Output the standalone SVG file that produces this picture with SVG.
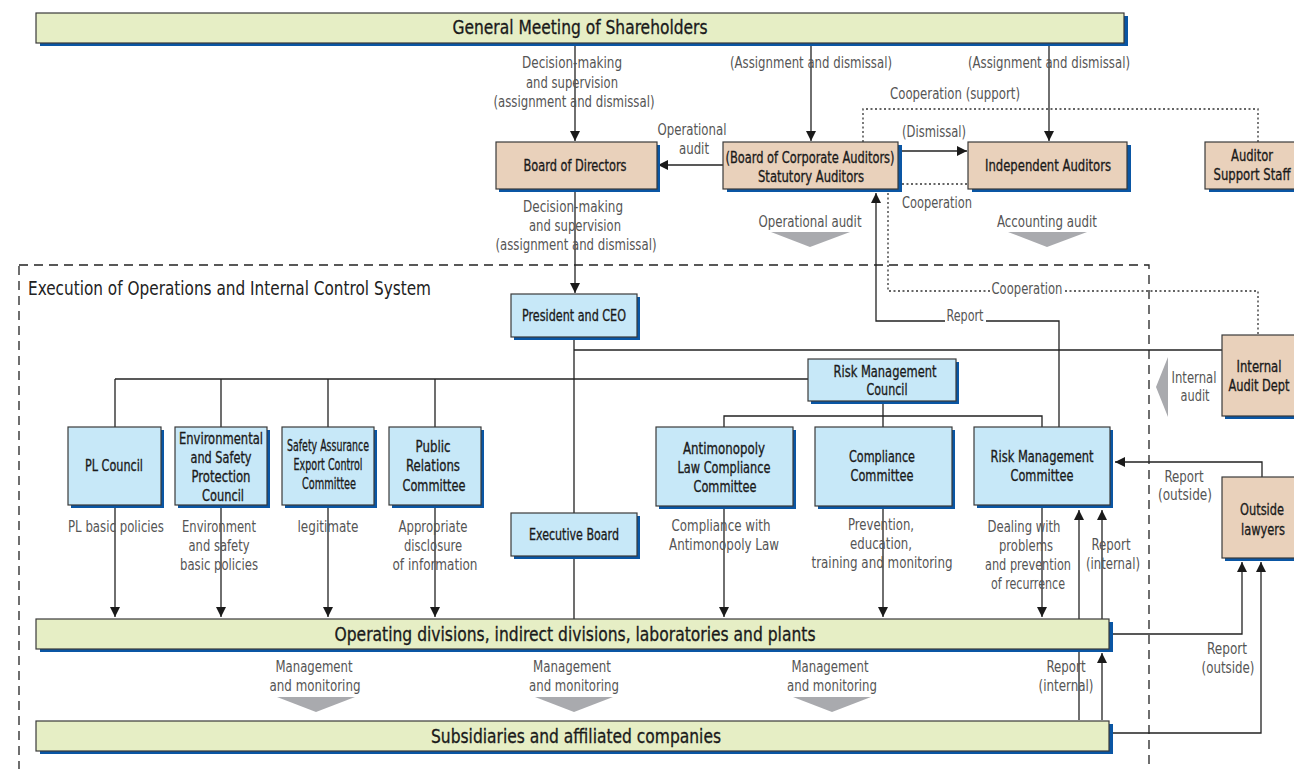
<svg xmlns="http://www.w3.org/2000/svg" width="1294" height="769" viewBox="0 0 1294 769">
<defs>
<marker id="ah" viewBox="0 0 10 10" refX="10" refY="5" markerWidth="10" markerHeight="10" markerUnits="userSpaceOnUse" orient="auto">
<path d="M0,0 L10,5 L0,10 z" fill="#1a1a1a"/>
</marker>
</defs>
<style>
text{font-family:"DejaVu Sans Condensed","DejaVu Sans","Liberation Sans",sans-serif;}
.sh{fill:#0a56a4}
.bx{stroke:#3a3a3a;stroke-width:1.2}
.g{fill:#e6eec5}
.t{fill:#e9d1bb}
.b{fill:#c7e8f8}
.nt{font-size:15px;fill:#1a1a1a;stroke:#1a1a1a;stroke-width:0.3;text-anchor:middle}
.big{font-size:19px;fill:#1a1a1a;stroke:#1a1a1a;stroke-width:0.3;text-anchor:middle}
.lb{font-size:15px;fill:#555;text-anchor:middle}
.ln{fill:none;stroke:#222;stroke-width:1.3}
.dot{fill:none;stroke:#333;stroke-width:1.3;stroke-dasharray:2 2.5}
.dash{fill:none;stroke:#222;stroke-width:1.3;stroke-dasharray:9 6}
.chev{fill:#a9aaae}
</style>

<rect class="dash" x="19" y="265" width="1130" height="540"/>
<text x="28" y="295" style="font-size:19px;fill:#222" textLength="403" lengthAdjust="spacingAndGlyphs">Execution of Operations and Internal Control System</text>

<g id="connectors">
<path class="ln" d="M575,43 V141" marker-end="url(#ah)"/>
<path class="ln" d="M811,43 V141" marker-end="url(#ah)"/>
<path class="ln" d="M1049,43 V141" marker-end="url(#ah)"/>
<path class="ln" d="M723,165 H658" marker-end="url(#ah)"/>
<path class="ln" d="M902,151 H967" marker-end="url(#ah)"/>
<path class="dot" d="M863,142 V109 H1258 V142"/>
<path class="dot" d="M902,184 H968"/>
<path class="dot" d="M888,193 V291 H990 M1065,291 H1258 V335"/>
<path class="ln" d="M1059,427 V321 H986 M945,321 H876 V193" marker-end="url(#ah)"/>
<path class="ln" d="M575,192 V293" marker-end="url(#ah)"/>
<path class="ln" d="M574,337 V513 M574,556 V619"/>
<path class="ln" d="M574,350 H1222"/>
<path class="ln" d="M115,379 H808"/>
<path class="ln" d="M115,379 V427 M221,379 V427 M328,379 V427 M435,379 V427"/>
<path class="ln" d="M883,401 V416 M724,427 V416 H1042 V427 M883,416 V427"/>
<path class="ln" d="M115,508 V617" marker-end="url(#ah)"/>
<path class="ln" d="M221,508 V617" marker-end="url(#ah)"/>
<path class="ln" d="M328,508 V617" marker-end="url(#ah)"/>
<path class="ln" d="M435,508 V617" marker-end="url(#ah)"/>
<path class="ln" d="M724,509 V617" marker-end="url(#ah)"/>
<path class="ln" d="M883,509 V617" marker-end="url(#ah)"/>
<path class="ln" d="M1042,508 V617" marker-end="url(#ah)"/>
<path class="ln" d="M1079,720 V510" marker-end="url(#ah)"/>
<path class="ln" d="M1102,619 V510" marker-end="url(#ah)"/>
<path class="ln" d="M1102,720 V653" marker-end="url(#ah)"/>
<path class="ln" d="M1262,477 V462 H1115" marker-end="url(#ah)"/>
<path class="ln" d="M1113,634 H1242 V562" marker-end="url(#ah)"/>
<path class="ln" d="M1113,733 H1261 V562" marker-end="url(#ah)"/>
<polygon class="chev" points="771,232 850,232 810,247"/>
<polygon class="chev" points="1008,232 1087,232 1047,247"/>
<polygon class="chev" points="277,697 355,697 316,712"/>
<polygon class="chev" points="535,697 613,697 574,712"/>
<polygon class="chev" points="793,697 871,697 832,712"/>
<polygon class="chev" points="1168,357 1156,387 1168,417"/>
</g>

<g id="labels">
<text class="lb" x="572" y="68" textLength="100" lengthAdjust="spacingAndGlyphs">Decision-making</text>
<text class="lb" x="572" y="88" textLength="92" lengthAdjust="spacingAndGlyphs">and supervision</text>
<text class="lb" x="574" y="107" textLength="161" lengthAdjust="spacingAndGlyphs">(assignment and dismissal)</text>
<text class="lb" x="811" y="68" textLength="162" lengthAdjust="spacingAndGlyphs">(Assignment and dismissal)</text>
<text class="lb" x="1049" y="68" textLength="162" lengthAdjust="spacingAndGlyphs">(Assignment and dismissal)</text>
<text class="lb" x="955" y="99" textLength="130" lengthAdjust="spacingAndGlyphs">Cooperation (support)</text>
<text class="lb" x="692" y="135" textLength="69" lengthAdjust="spacingAndGlyphs">Operational</text>
<text class="lb" x="694" y="154" textLength="30" lengthAdjust="spacingAndGlyphs">audit</text>
<text class="lb" x="934" y="137" textLength="64" lengthAdjust="spacingAndGlyphs">(Dismissal)</text>
<text class="lb" x="937" y="208" textLength="70" lengthAdjust="spacingAndGlyphs">Cooperation</text>
<text class="lb" x="810" y="227" textLength="103" lengthAdjust="spacingAndGlyphs">Operational audit</text>
<text class="lb" x="1047" y="227" textLength="100" lengthAdjust="spacingAndGlyphs">Accounting audit</text>
<text class="lb" x="573" y="212" textLength="100" lengthAdjust="spacingAndGlyphs">Decision-making</text>
<text class="lb" x="575" y="231" textLength="92" lengthAdjust="spacingAndGlyphs">and supervision</text>
<text class="lb" x="576" y="250" textLength="161" lengthAdjust="spacingAndGlyphs">(assignment and dismissal)</text>
<text class="lb" x="1027" y="294" textLength="71" lengthAdjust="spacingAndGlyphs">Cooperation</text>
<text class="lb" x="965" y="321" textLength="37" lengthAdjust="spacingAndGlyphs">Report</text>
<text class="lb" x="1194" y="383" textLength="45" lengthAdjust="spacingAndGlyphs">Internal</text>
<text class="lb" x="1195" y="401" textLength="29" lengthAdjust="spacingAndGlyphs">audit</text>
<text class="lb" x="1184" y="482" textLength="39" lengthAdjust="spacingAndGlyphs">Report</text>
<text class="lb" x="1185" y="500" textLength="54" lengthAdjust="spacingAndGlyphs">(outside)</text>
<text class="lb" x="116" y="532" textLength="96" lengthAdjust="spacingAndGlyphs">PL basic policies</text>
<text class="lb" x="219" y="532" textLength="74" lengthAdjust="spacingAndGlyphs">Environment</text>
<text class="lb" x="219" y="551" textLength="61" lengthAdjust="spacingAndGlyphs">and safety</text>
<text class="lb" x="219" y="570" textLength="78" lengthAdjust="spacingAndGlyphs">basic policies</text>
<text class="lb" x="328" y="532" textLength="61" lengthAdjust="spacingAndGlyphs">legitimate</text>
<text class="lb" x="433" y="532" textLength="69" lengthAdjust="spacingAndGlyphs">Appropriate</text>
<text class="lb" x="433" y="551" textLength="58" lengthAdjust="spacingAndGlyphs">disclosure</text>
<text class="lb" x="435" y="570" textLength="85" lengthAdjust="spacingAndGlyphs">of information</text>
<text class="lb" x="721" y="531" textLength="99" lengthAdjust="spacingAndGlyphs">Compliance with</text>
<text class="lb" x="724" y="550" textLength="110" lengthAdjust="spacingAndGlyphs">Antimonopoly Law</text>
<text class="lb" x="881" y="530" textLength="66" lengthAdjust="spacingAndGlyphs">Prevention,</text>
<text class="lb" x="881" y="549" textLength="62" lengthAdjust="spacingAndGlyphs">education,</text>
<text class="lb" x="882" y="568" textLength="141" lengthAdjust="spacingAndGlyphs">training and monitoring</text>
<text class="lb" x="1024" y="532" textLength="73" lengthAdjust="spacingAndGlyphs">Dealing with</text>
<text class="lb" x="1026" y="551" textLength="54" lengthAdjust="spacingAndGlyphs">problems</text>
<text class="lb" x="1028" y="570" textLength="86" lengthAdjust="spacingAndGlyphs">and prevention</text>
<text class="lb" x="1028" y="589" textLength="74" lengthAdjust="spacingAndGlyphs">of recurrence</text>
<text class="lb" x="1111" y="550" textLength="39" lengthAdjust="spacingAndGlyphs">Report</text>
<text class="lb" x="1113" y="569" textLength="54" lengthAdjust="spacingAndGlyphs">(internal)</text>
<text class="lb" x="1066" y="672" textLength="39" lengthAdjust="spacingAndGlyphs">Report</text>
<text class="lb" x="1066" y="691" textLength="55" lengthAdjust="spacingAndGlyphs">(internal)</text>
<text class="lb" x="1227" y="654" textLength="40" lengthAdjust="spacingAndGlyphs">Report</text>
<text class="lb" x="1228" y="673" textLength="53" lengthAdjust="spacingAndGlyphs">(outside)</text>
<text class="lb" x="314" y="672" textLength="77" lengthAdjust="spacingAndGlyphs">Management</text>
<text class="lb" x="315" y="691" textLength="91" lengthAdjust="spacingAndGlyphs">and monitoring</text>
<text class="lb" x="572" y="672" textLength="78" lengthAdjust="spacingAndGlyphs">Management</text>
<text class="lb" x="574" y="691" textLength="90" lengthAdjust="spacingAndGlyphs">and monitoring</text>
<text class="lb" x="830" y="672" textLength="77" lengthAdjust="spacingAndGlyphs">Management</text>
<text class="lb" x="832" y="691" textLength="90" lengthAdjust="spacingAndGlyphs">and monitoring</text>
</g>

<g id="gms">
<rect class="sh" x="40" y="16" width="1088" height="30"/>
<rect class="bx g" x="36" y="13" width="1088" height="30"/>
<text class="big" x="580" y="34" textLength="255" lengthAdjust="spacingAndGlyphs">General Meeting of Shareholders</text>
</g>
<g id="bod">
<rect class="sh" x="499" y="145" width="161" height="47"/>
<rect class="bx t" x="496" y="142" width="161" height="47"/>
<text class="nt" x="575" y="171" textLength="103" lengthAdjust="spacingAndGlyphs">Board of Directors</text>
</g>
<g id="statutory">
<rect class="sh" x="727" y="145" width="175" height="47"/>
<rect class="bx t" x="723" y="142" width="175" height="47"/>
<text class="nt" x="810" y="163" textLength="169" lengthAdjust="spacingAndGlyphs">(Board of Corporate Auditors)</text>
<text class="nt" x="811" y="182" textLength="106" lengthAdjust="spacingAndGlyphs">Statutory Auditors</text>
</g>
<g id="independent">
<rect class="sh" x="972" y="145" width="159" height="47"/>
<rect class="bx t" x="968" y="142" width="159" height="47"/>
<text class="nt" x="1048" y="171" textLength="126" lengthAdjust="spacingAndGlyphs">Independent Auditors</text>
</g>
<g id="support">
<rect class="sh" x="1209" y="145" width="100" height="47"/>
<rect class="bx t" x="1205" y="142" width="100" height="47"/>
<text class="nt" x="1252" y="161" textLength="42" lengthAdjust="spacingAndGlyphs">Auditor</text>
<text class="nt" x="1252" y="180" textLength="77" lengthAdjust="spacingAndGlyphs">Support Staff</text>
</g>
<g id="president">
<rect class="sh" x="514" y="297" width="126" height="43"/>
<rect class="bx b" x="511" y="294" width="126" height="43"/>
<text class="nt" x="574" y="321" textLength="104" lengthAdjust="spacingAndGlyphs">President and CEO</text>
</g>
<g id="rmcouncil">
<rect class="sh" x="811" y="362" width="148" height="42"/>
<rect class="bx b" x="808" y="359" width="148" height="42"/>
<text class="nt" x="885" y="377" textLength="103" lengthAdjust="spacingAndGlyphs">Risk Management</text>
<text class="nt" x="887" y="395" textLength="41" lengthAdjust="spacingAndGlyphs">Council</text>
</g>
<g id="internal">
<rect class="sh" x="1225" y="338" width="90" height="81"/>
<rect class="bx t" x="1222" y="335" width="90" height="81"/>
<text class="nt" x="1259" y="372" textLength="45" lengthAdjust="spacingAndGlyphs">Internal</text>
<text class="nt" x="1259" y="391" textLength="61" lengthAdjust="spacingAndGlyphs">Audit Dept</text>
</g>
<g id="pl">
<rect class="sh" x="71" y="430" width="93" height="78"/>
<rect class="bx b" x="68" y="427" width="93" height="78"/>
<text class="nt" x="114" y="471" textLength="58" lengthAdjust="spacingAndGlyphs">PL Council</text>
</g>
<g id="env">
<rect class="sh" x="178" y="430" width="92" height="78"/>
<rect class="bx b" x="175" y="427" width="92" height="78"/>
<text class="nt" x="221" y="444" textLength="84" lengthAdjust="spacingAndGlyphs">Environmental</text>
<text class="nt" x="221" y="463" textLength="61" lengthAdjust="spacingAndGlyphs">and Safety</text>
<text class="nt" x="221" y="482" textLength="59" lengthAdjust="spacingAndGlyphs">Protection</text>
<text class="nt" x="223" y="501" textLength="42" lengthAdjust="spacingAndGlyphs">Council</text>
</g>
<g id="safety">
<rect class="sh" x="285" y="430" width="92" height="78"/>
<rect class="bx b" x="282" y="427" width="92" height="78"/>
<text class="nt" x="328" y="451" textLength="82" lengthAdjust="spacingAndGlyphs">Safety Assurance</text>
<text class="nt" x="328" y="470" textLength="69" lengthAdjust="spacingAndGlyphs">Export Control</text>
<text class="nt" x="329" y="489" textLength="54" lengthAdjust="spacingAndGlyphs">Committee</text>
</g>
<g id="pr">
<rect class="sh" x="392" y="430" width="92" height="78"/>
<rect class="bx b" x="389" y="427" width="92" height="78"/>
<text class="nt" x="433" y="452" textLength="35" lengthAdjust="spacingAndGlyphs">Public</text>
<text class="nt" x="433" y="471" textLength="54" lengthAdjust="spacingAndGlyphs">Relations</text>
<text class="nt" x="434" y="491" textLength="63" lengthAdjust="spacingAndGlyphs">Committee</text>
</g>
<g id="antimonopoly">
<rect class="sh" x="659" y="430" width="137" height="79"/>
<rect class="bx b" x="656" y="427" width="137" height="79"/>
<text class="nt" x="724" y="454" textLength="82" lengthAdjust="spacingAndGlyphs">Antimonopoly</text>
<text class="nt" x="724" y="473" textLength="93" lengthAdjust="spacingAndGlyphs">Law Compliance</text>
<text class="nt" x="725" y="492" textLength="63" lengthAdjust="spacingAndGlyphs">Committee</text>
</g>
<g id="compliance">
<rect class="sh" x="818" y="430" width="137" height="79"/>
<rect class="bx b" x="815" y="427" width="137" height="79"/>
<text class="nt" x="882" y="462" textLength="66" lengthAdjust="spacingAndGlyphs">Compliance</text>
<text class="nt" x="882" y="481" textLength="63" lengthAdjust="spacingAndGlyphs">Committee</text>
</g>
<g id="rmcommittee">
<rect class="sh" x="977" y="430" width="136" height="78"/>
<rect class="bx b" x="974" y="427" width="136" height="78"/>
<text class="nt" x="1042" y="462" textLength="103" lengthAdjust="spacingAndGlyphs">Risk Management</text>
<text class="nt" x="1042" y="481" textLength="63" lengthAdjust="spacingAndGlyphs">Committee</text>
</g>
<g id="executive">
<rect class="sh" x="514" y="516" width="126" height="43"/>
<rect class="bx b" x="511" y="513" width="126" height="43"/>
<text class="nt" x="574" y="540" textLength="90" lengthAdjust="spacingAndGlyphs">Executive Board</text>
</g>
<g id="outside">
<rect class="sh" x="1225" y="480" width="90" height="81"/>
<rect class="bx t" x="1222" y="477" width="90" height="81"/>
<text class="nt" x="1262" y="515" textLength="44" lengthAdjust="spacingAndGlyphs">Outside</text>
<text class="nt" x="1263" y="535" textLength="44" lengthAdjust="spacingAndGlyphs">lawyers</text>
</g>
<g id="operating">
<rect class="sh" x="40" y="622" width="1073" height="30"/>
<rect class="bx g" x="36" y="619" width="1073" height="30"/>
<text class="big" x="575" y="641" textLength="481" lengthAdjust="spacingAndGlyphs">Operating divisions, indirect divisions, laboratories and plants</text>
</g>
<g id="subsidiaries">
<rect class="sh" x="40" y="724" width="1073" height="30"/>
<rect class="bx g" x="36" y="721" width="1073" height="30"/>
<text class="big" x="576" y="743" textLength="290" lengthAdjust="spacingAndGlyphs">Subsidiaries and affiliated companies</text>
</g>
</svg>
